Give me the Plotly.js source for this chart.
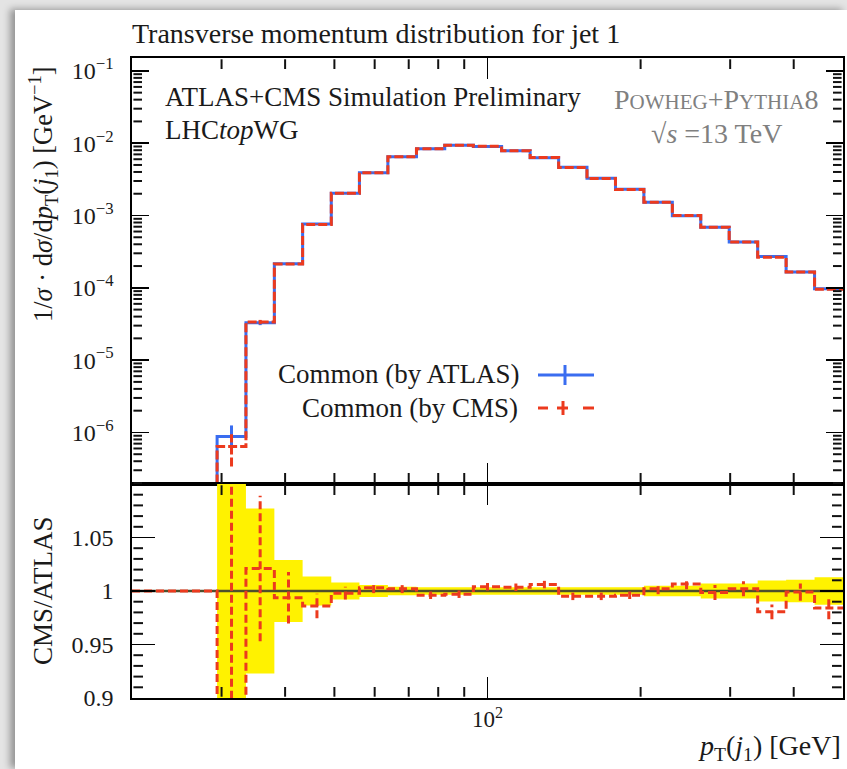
<!DOCTYPE html>
<html><head><meta charset="utf-8">
<script src="https://cdn.plot.ly/plotly-3.0.1.min.js"></script>
<style>
html,body{margin:0;padding:0;width:847px;height:769px;overflow:hidden;background:#e4e4e4;}
#wrap{position:absolute;left:15px;top:10px;width:832px;height:759px;background:#fff;box-shadow:-5px -1px 7px rgba(0,0,0,0.35);}
</style></head>
<body><div id="wrap"><div id="plot" style="width:832px;height:759px;"></div></div>
<script>
// ---- data ----
const binEdges = [20.0, 22.7, 25.9, 29.4, 33.5, 38.1, 43.3, 49.3, 56.0, 63.7, 72.5, 82.4, 93.8,
  106.6, 121.3, 138.0, 156.9, 178.5, 203.0, 230.9, 262.6, 298.7, 339.8, 386.5, 439.6, 500.0];
const atlasVals = [0, 0, 0, 8.8e-7, 3.3e-5, 2.15e-4, 7.6e-4, 2.03e-3, 3.9e-3, 6.5e-3, 8.4e-3, 9.4e-3,
  9.0e-3, 7.85e-3, 6.3e-3, 4.64e-3, 3.27e-3, 2.3e-3, 1.52e-3, 9.9e-4, 6.87e-4, 4.3e-4, 2.7e-4, 1.66e-4, 9.7e-5];
const cmsVals = [0, 0, 0, 6.4e-7, 3.37e-5, 2.14e-4, 7.49e-4, 2.03e-3, 3.91e-3, 6.51e-3, 8.37e-3, 9.37e-3,
  9.04e-3, 7.88e-3, 6.34e-3, 4.62e-3, 3.25e-3, 2.29e-3, 1.52e-3, 9.97e-4, 6.86e-4, 4.31e-4, 2.65e-4, 1.66e-4, 9.55e-5];
const cmsRatio = [1, 1, 1, 0.73, 1.021, 0.9937, 0.986, 0.998, 1.003, 1.002, 0.996, 0.997,
  1.004, 1.0035, 1.006, 0.995, 0.995, 0.996, 1.002, 1.0066, 0.9985, 1.002, 0.9805, 0.999, 0.984];
const atlasRelErr = [0, 0, 0, 0.42, 0.077, 0.029, 0.0135, 0.008, 0.0057, 0.004, 0.0035, 0.0035,
  0.0035, 0.0035, 0.0035, 0.0035, 0.0035, 0.0035, 0.005, 0.005, 0.007, 0.007, 0.0097, 0.0104, 0.0129];
const cmsRelErr = [0, 0, 0, 0.47, 0.068, 0.024, 0.0115, 0.006, 0.005, 0.004, 0.0035, 0.0035,
  0.0035, 0.0035, 0.0035, 0.0035, 0.0035, 0.0035, 0.005, 0.005, 0.007, 0.007, 0.007, 0.008, 0.0105];

const yTickVals = [1e-6, 1e-5, 1e-4, 1e-3, 1e-2, 1e-1];
const yTickText = ['10<sup>−6</sup>', '10<sup>−5</sup>', '10<sup>−4</sup>', '10<sup>−3</sup>', '10<sup>−2</sup>', '10<sup>−1</sup>'];
const xTickVals = [100];
const xTickText = ['10<sup>2</sup>'];
const xMinorTicks = [30, 40, 50, 60, 70, 80, 90, 200, 300, 400];
const ratioTickVals = [0.9, 0.95, 1, 1.05];
const ratioTickText = ['0.9', '0.95', '1', '1.05'];
const ratioMinorTicks = [0.91, 0.92, 0.93, 0.94, 0.96, 0.97, 0.98, 0.99, 1.01, 1.02, 1.03, 1.04, 1.06, 1.07, 1.08, 1.09];
const mantissas = [2, 3, 4, 5, 6, 7, 8, 9];
const decades = [-7, -6, -5, -4, -3, -2, -1];

// ---- helpers ----
const BLUE = '#3a6df0', RED = '#ec3a1e', YELLOW = '#fff200', OLIVE = '#4f4f2c';
const FLOOR = 1e-12;
const Y_MAIN_RANGE = [-6.713, -0.822];
const Y_RATIO_RANGE = [0.9, 1.1];
const X_RANGE = [Math.log10(20), Math.log10(500)];
function stepY(vals, fl) { const v = vals.map(a => (a > 0 ? a : fl)); return v.concat([v[v.length - 1]]); }
function errSegs(vals, lowF, highF) {
  const xs = [], ys = [];
  for (let i = 0; i < vals.length; i++) {
    if (!(atlasVals[i] > 0)) continue;
    const xc = Math.sqrt(binEdges[i] * binEdges[i + 1]);
    xs.push(xc, xc, null); ys.push(lowF(i), highF(i), null);
  }
  return {x: xs, y: ys};
}

const aErr = errSegs(atlasVals, i => atlasVals[i] * (1 - atlasRelErr[i]), i => atlasVals[i] * (1 + atlasRelErr[i]));
const cErr = errSegs(cmsVals, i => cmsVals[i] * (1 - cmsRelErr[i]), i => cmsVals[i] * (1 + cmsRelErr[i]));
const rErr = errSegs(cmsRatio, i => cmsRatio[i] - cmsRelErr[i], i => cmsRatio[i] + cmsRelErr[i]);

const firstBin = atlasVals.findIndex(v => v > 0);
const bandX = binEdges.slice(firstBin);
const bandLo = stepY(atlasRelErr.slice(firstBin).map(e => 1 - e), 1);
const bandHi = stepY(atlasRelErr.slice(firstBin).map(e => 1 + e), 1);

const traces = [
  {x: binEdges, y: stepY(atlasVals, FLOOR), xaxis: 'x', yaxis: 'y', mode: 'lines', line: {shape: 'hv', color: BLUE, width: 3}},
  {x: aErr.x, y: aErr.y, xaxis: 'x', yaxis: 'y', mode: 'lines', line: {color: BLUE, width: 3}},
  {x: binEdges, y: stepY(cmsVals, FLOOR), xaxis: 'x', yaxis: 'y', mode: 'lines', line: {shape: 'hv', color: RED, width: 3, dash: '9px,3px'}},
  {x: cErr.x, y: cErr.y, xaxis: 'x', yaxis: 'y', mode: 'lines', line: {color: RED, width: 3, dash: '9px,3px'}},
  {x: bandX, y: bandLo, xaxis: 'x2', yaxis: 'y2', mode: 'lines', line: {shape: 'hv', width: 0, color: YELLOW}},
  {x: bandX, y: bandHi, xaxis: 'x2', yaxis: 'y2', mode: 'lines', fill: 'tonexty', fillcolor: YELLOW, line: {shape: 'hv', width: 0, color: YELLOW}},
  {x: binEdges, y: stepY(binEdges.slice(1).map(() => 1), 1), xaxis: 'x2', yaxis: 'y2', mode: 'lines', line: {shape: 'hv', color: OLIVE, width: 2.5}},
  {x: binEdges, y: stepY(cmsRatio, 1), xaxis: 'x2', yaxis: 'y2', mode: 'lines', line: {shape: 'hv', color: RED, width: 3, dash: '8px,4px'}},
  {x: rErr.x, y: rErr.y, xaxis: 'x2', yaxis: 'y2', mode: 'lines', line: {color: RED, width: 3, dash: '8px,4px'}}
];

// pixel helpers for decorations (page pixel -> paper)
const PL = 132, PR = 843, PT = 58, PB = 698;
const W = PR - PL, H = PB - PT;
const px = p => (p - PL) / W;
const py = p => (PB - p) / H;
const SPLIT = 214 / 640;

// minor tick marks drawn as paper-space shapes, placed from the axis ranges
const minorShapes = [];
const xFrac = v => (Math.log10(v) - X_RANGE[0]) / (X_RANGE[1] - X_RANGE[0]);
const yMainFrac = v => SPLIT + (1 - SPLIT) * (Math.log10(v) - Y_MAIN_RANGE[0]) / (Y_MAIN_RANGE[1] - Y_MAIN_RANGE[0]);
const yRatioFrac = v => SPLIT * (v - Y_RATIO_RANGE[0]) / (Y_RATIO_RANGE[1] - Y_RATIO_RANGE[0]);
function seg(x0, x1, y0, y1) {
  minorShapes.push({type: 'line', xref: 'paper', yref: 'paper', x0: x0, x1: x1, y0: y0, y1: y1, line: {color: '#111111', width: 2}});
}
function hTick(yf, lenPx) {
  seg(0.002, lenPx / W, yf, yf);
  seg(0.998, 1 - lenPx / W, yf, yf);
}
function vTicks(xf, yBot, yTop, lenPx) {
  seg(xf, xf, yBot + 0.002, yBot + lenPx / H);
  seg(xf, xf, yTop - 0.002, yTop - lenPx / H);
}
xMinorTicks.forEach(v => { vTicks(xFrac(v), SPLIT, 1, 11); vTicks(xFrac(v), 0, SPLIT, 11); });
decades.forEach(e => mantissas.forEach(m => {
  const lv = Math.log10(m) + e;
  if (lv > Y_MAIN_RANGE[0] && lv < Y_MAIN_RANGE[1]) hTick(yMainFrac(m * Math.pow(10, e)), 10);
}));
ratioMinorTicks.forEach(v => hTick(yRatioFrac(v), 11));

const FONT = '"Liberation Serif", "DejaVu Serif", serif';
const axisCommon = {showline: true, linecolor: '#000', linewidth: 1.6, mirror: 'ticks', ticks: 'inside',
  tickcolor: '#000', tickwidth: 1.5, showgrid: false, zeroline: false};

const legendShapes = [
  {type: 'line', xref: 'paper', yref: 'paper', x0: px(538), x1: px(594), y0: py(375), y1: py(375), line: {color: BLUE, width: 3}},
  {type: 'line', xref: 'paper', yref: 'paper', x0: px(565), x1: px(565), y0: py(365), y1: py(385), line: {color: BLUE, width: 3}},
  {type: 'line', xref: 'paper', yref: 'paper', x0: px(538), x1: px(548), y0: py(408), y1: py(408), line: {color: RED, width: 3}},
  {type: 'line', xref: 'paper', yref: 'paper', x0: px(557), x1: px(568), y0: py(408), y1: py(408), line: {color: RED, width: 3}},
  {type: 'line', xref: 'paper', yref: 'paper', x0: px(583), x1: px(594), y0: py(408), y1: py(408), line: {color: RED, width: 3}},
  {type: 'line', xref: 'paper', yref: 'paper', x0: px(563), x1: px(563), y0: py(401), y1: py(415), line: {color: RED, width: 3}}
];

const layout = {
  width: 832, height: 759,
  margin: {l: 117, r: 4, t: 48, b: 71},
  paper_bgcolor: '#fff', plot_bgcolor: '#fff',
  showlegend: false,
  font: {family: FONT, color: '#1a1a1a', size: 22},
  title: {text: 'Transverse momentum distribution for jet 1', xref: 'paper', x: 0, xanchor: 'left',
    yref: 'container', y: 1 - 23 / 759, yanchor: 'middle', font: {size: 28, family: FONT, color: '#1a1a1a'}},
  xaxis: Object.assign({}, axisCommon, {type: 'log', range: X_RANGE, anchor: 'y',
    tickmode: 'array', tickvals: xTickVals, ticklen: 21, showticklabels: false}),
  yaxis: Object.assign({}, axisCommon, {type: 'log', domain: [SPLIT, 1], range: Y_MAIN_RANGE, anchor: 'x',
    tickmode: 'array', tickvals: yTickVals, ticktext: yTickText, ticklen: 17, ticklabelstandoff: 12,
    tickfont: {size: 24, family: FONT}}),
  xaxis2: Object.assign({}, axisCommon, {type: 'log', range: X_RANGE, anchor: 'y2',
    tickmode: 'array', tickvals: xTickVals, ticktext: xTickText, ticklen: 21, tickfont: {size: 23, family: FONT}}),
  yaxis2: Object.assign({}, axisCommon, {domain: [0, SPLIT], range: Y_RATIO_RANGE, anchor: 'x2',
    tickmode: 'array', tickvals: ratioTickVals, ticktext: ratioTickText, ticklen: 23, ticklabelstandoff: 12,
    tickfont: {size: 24, family: FONT}}),
  annotations: [
    {xref: 'paper', yref: 'paper', x: px(163), y: py(97), xanchor: 'left', yanchor: 'middle', showarrow: false,
      text: 'ATLAS+CMS Simulation Preliminary', font: {size: 27, family: FONT, color: '#1a1a1a'}},
    {xref: 'paper', yref: 'paper', x: px(163), y: py(130), xanchor: 'left', yanchor: 'middle', showarrow: false,
      text: 'LHC<i>top</i>WG', font: {size: 27, family: FONT, color: '#1a1a1a'}},
    {xref: 'paper', yref: 'paper', x: px(716), y: py(99), xanchor: 'center', yanchor: 'middle', showarrow: false,
      text: 'P<span style="font-size:21px">OWHEG</span>+P<span style="font-size:21px">YTHIA</span>8', font: {size: 28, family: FONT, color: '#808080'}},
    {xref: 'paper', yref: 'paper', x: px(716), y: py(133), xanchor: 'center', yanchor: 'middle', showarrow: false,
      text: '√<i>s</i> =13 TeV', font: {size: 28, family: FONT, color: '#808080'}},
    {xref: 'paper', yref: 'paper', x: px(522), y: py(374), xanchor: 'right', yanchor: 'middle', showarrow: false,
      text: 'Common (by ATLAS)', font: {size: 27, family: FONT, color: '#1a1a1a'}},
    {xref: 'paper', yref: 'paper', x: px(520), y: py(408), xanchor: 'right', yanchor: 'middle', showarrow: false,
      text: 'Common (by CMS)', font: {size: 27, family: FONT, color: '#1a1a1a'}},
    {xref: 'paper', yref: 'paper', x: px(43), y: py(194), xanchor: 'center', yanchor: 'middle', showarrow: false, textangle: -90,
      text: '1/<i>σ</i> · d<i>σ</i>/d<i>p</i><sub>T</sub>(<i>j</i><sub>1</sub>) [GeV<sup>−1</sup>]', font: {size: 26.5, family: FONT, color: '#1a1a1a'}},
    {xref: 'paper', yref: 'paper', x: px(43), y: py(591), xanchor: 'center', yanchor: 'middle', showarrow: false, textangle: -90,
      text: 'CMS/ATLAS', font: {size: 27, family: FONT, color: '#1a1a1a'}},
    {xref: 'paper', yref: 'paper', x: 1, y: py(747), xanchor: 'right', yanchor: 'middle', showarrow: false,
      text: '<i>p</i><sub>T</sub>(<i>j</i><sub>1</sub>) [GeV]', font: {size: 28, family: FONT, color: '#1a1a1a'}}
  ],
  shapes: legendShapes.concat(minorShapes)
};

Plotly.newPlot('plot', traces, layout, {displayModeBar: false, staticPlot: true});
</script>
</body></html>
